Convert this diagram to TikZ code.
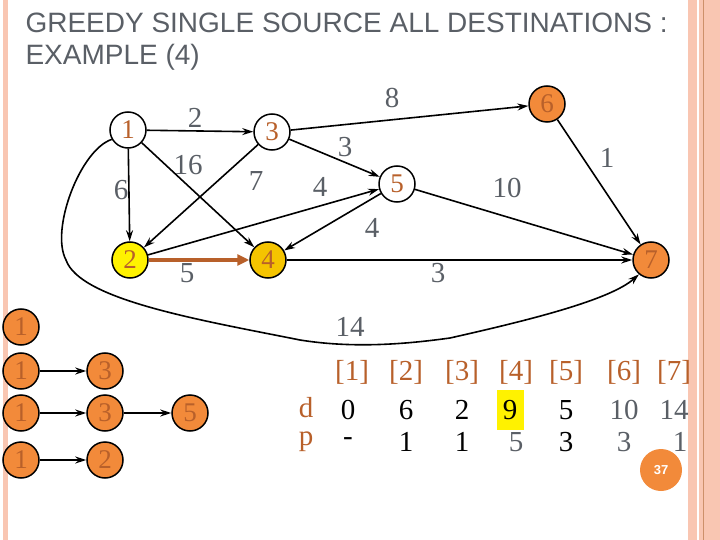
\documentclass[tikz,border=0pt]{standalone}
\usepackage{fontspec}
\setmainfont{Liberation Serif}
\newfontfamily\titlefont{Liberation Sans}
\usetikzlibrary{arrows.meta}
\definecolor{brn}{HTML}{B8602A}
\definecolor{org}{HTML}{F28A3A}
\definecolor{gld}{HTML}{F5C400}
\definecolor{pnk}{HTML}{F9C6B2}
\definecolor{gry}{HTML}{5A5F66}
\tikzset{
 v/.style={circle,draw=black,line width=1.5pt,minimum size=36pt,inner sep=0pt,text=brn,font=\fontsize{27}{27}\selectfont},
 lv/.style={v,fill=org},
 e/.style={-{Stealth[length=11pt,width=7pt]},line width=1.6pt},
 w/.style={text=gry,font=\fontsize{29}{29}\selectfont},
 hd/.style={text=brn,font=\fontsize{29}{29}\selectfont},
 tv/.style={font=\fontsize{29}{29}\selectfont},
}
\begin{document}
\begin{tikzpicture}[x=1pt,y=-1pt]
\useasboundingbox (0,0) rectangle (720,540);
\fill[pnk] (3,0) rectangle (8,540);
\fill[pnk] (688,0) rectangle (697,540);
\fill[pnk] (699,0) rectangle (720,540);
\draw[brn!70,line width=0.8pt] (703,0) -- (703,540);
\node[anchor=west,text=gry,font=\titlefont\fontsize{28}{28}\selectfont] (t1) at (22,23) {GREEDY SINGLE SOURCE ALL DESTINATIONS :};
\node[anchor=west,text=gry,font=\titlefont\fontsize{28}{28}\selectfont] (t2) at (22,57) {EXAMPLE (4)};
% graph
\node[v,fill=white] (n1) at (128,130) {1};
\node[v,fill=white] (n3) at (272,132) {3};
\node[lv] (n6) at (547,104) {6};
\node[v,fill=white] (n5) at (397,184) {5};
\node[v,fill=yellow] (n2) at (130,260) {2};
\node[v,fill=gld] (n4) at (268,260) {4};
\node[lv] (n7) at (651,260) {7};
\draw[e] (n1) -- (n3);
\draw[e] (n1) -- (n2);
\draw[e] (n1) -- (n4);
\draw[e] (n3) -- (n2);
\draw[e] (n3) -- (n6);
\draw[e] (n3) -- (n5);
\draw[e] (n2) -- (n5);
\draw[e] (n5) -- (n4);
\draw[e] (n5) -- (n7);
\draw[e] (n6) -- (n7);
\draw[e] (n4) -- (n7);
\draw[-{Triangle[length=12pt,width=11pt]},line width=4.5pt,brn] (n2) -- (n4);
\draw[e] (n1.210) .. controls (80,150) and (50,230) .. (66,260)
  .. controls (80,300) and (200,320) .. (300,340)
  .. controls (350,348) and (400,345) .. (450,338)
  .. controls (530,320) and (610,300) .. (n7.230);
\node[w] at (195,118) {2};
\node[w] at (188,165) {16};
\node[w] at (121,190) {6};
\node[w] at (256,181) {7};
\node[w] at (345,147) {3};
\node[w] at (392,98) {8};
\node[w] at (320,187) {4};
\node[w] at (372,228) {4};
\node[w] at (507,188) {10};
\node[w] at (607,158) {1};
\node[w] at (187,273) {5};
\node[w] at (438,273) {3};
\node[w] at (350,327) {14};
% list
\node[lv] (a1) at (21,327) {1};
\node[lv] (b1) at (21,371) {1};
\node[lv] (b3) at (105,371) {3};
\node[lv] (c1) at (21,413) {1};
\node[lv] (c3) at (105,413) {3};
\node[lv] (c5) at (190,413) {5};
\node[lv] (d1) at (21,460) {1};
\node[lv] (d2) at (105,460) {2};
\draw[e] (b1) -- (b3);
\draw[e] (c1) -- (c3);
\draw[e] (c3) -- (c5);
\draw[e] (d1) -- (d2);
% table
\fill[yellow] (497,390) rectangle (524,430);
\foreach \x/\t in {352/1,406/2,462/3,516/4,566/5,624/6,674/7}
  \node[hd] at (\x,372) {[\t]};
\node[hd] at (306,408) {d};
\node[hd] at (306,442) {p};
\foreach \x/\t in {348/0,406/6,462/2,510/9,566/5}
  \node[tv] at (\x,410) {\t};
\node[w] at (624,410) {10};
\node[w] at (674,410) {14};
\foreach \x/\t in {348/-,406/1,462/1,566/3}
  \node[tv] at (\x,442) {\t};
\node[w] at (516,442) {5};
\node[w] at (624,442) {3};
\node[w] at (680,442) {1};
\node[circle,fill=org,minimum size=42pt,inner sep=0pt,text=white,font=\titlefont\bfseries\fontsize{13}{13}\selectfont] (pg) at (661,470) {37};
\end{tikzpicture}
\end{document}
